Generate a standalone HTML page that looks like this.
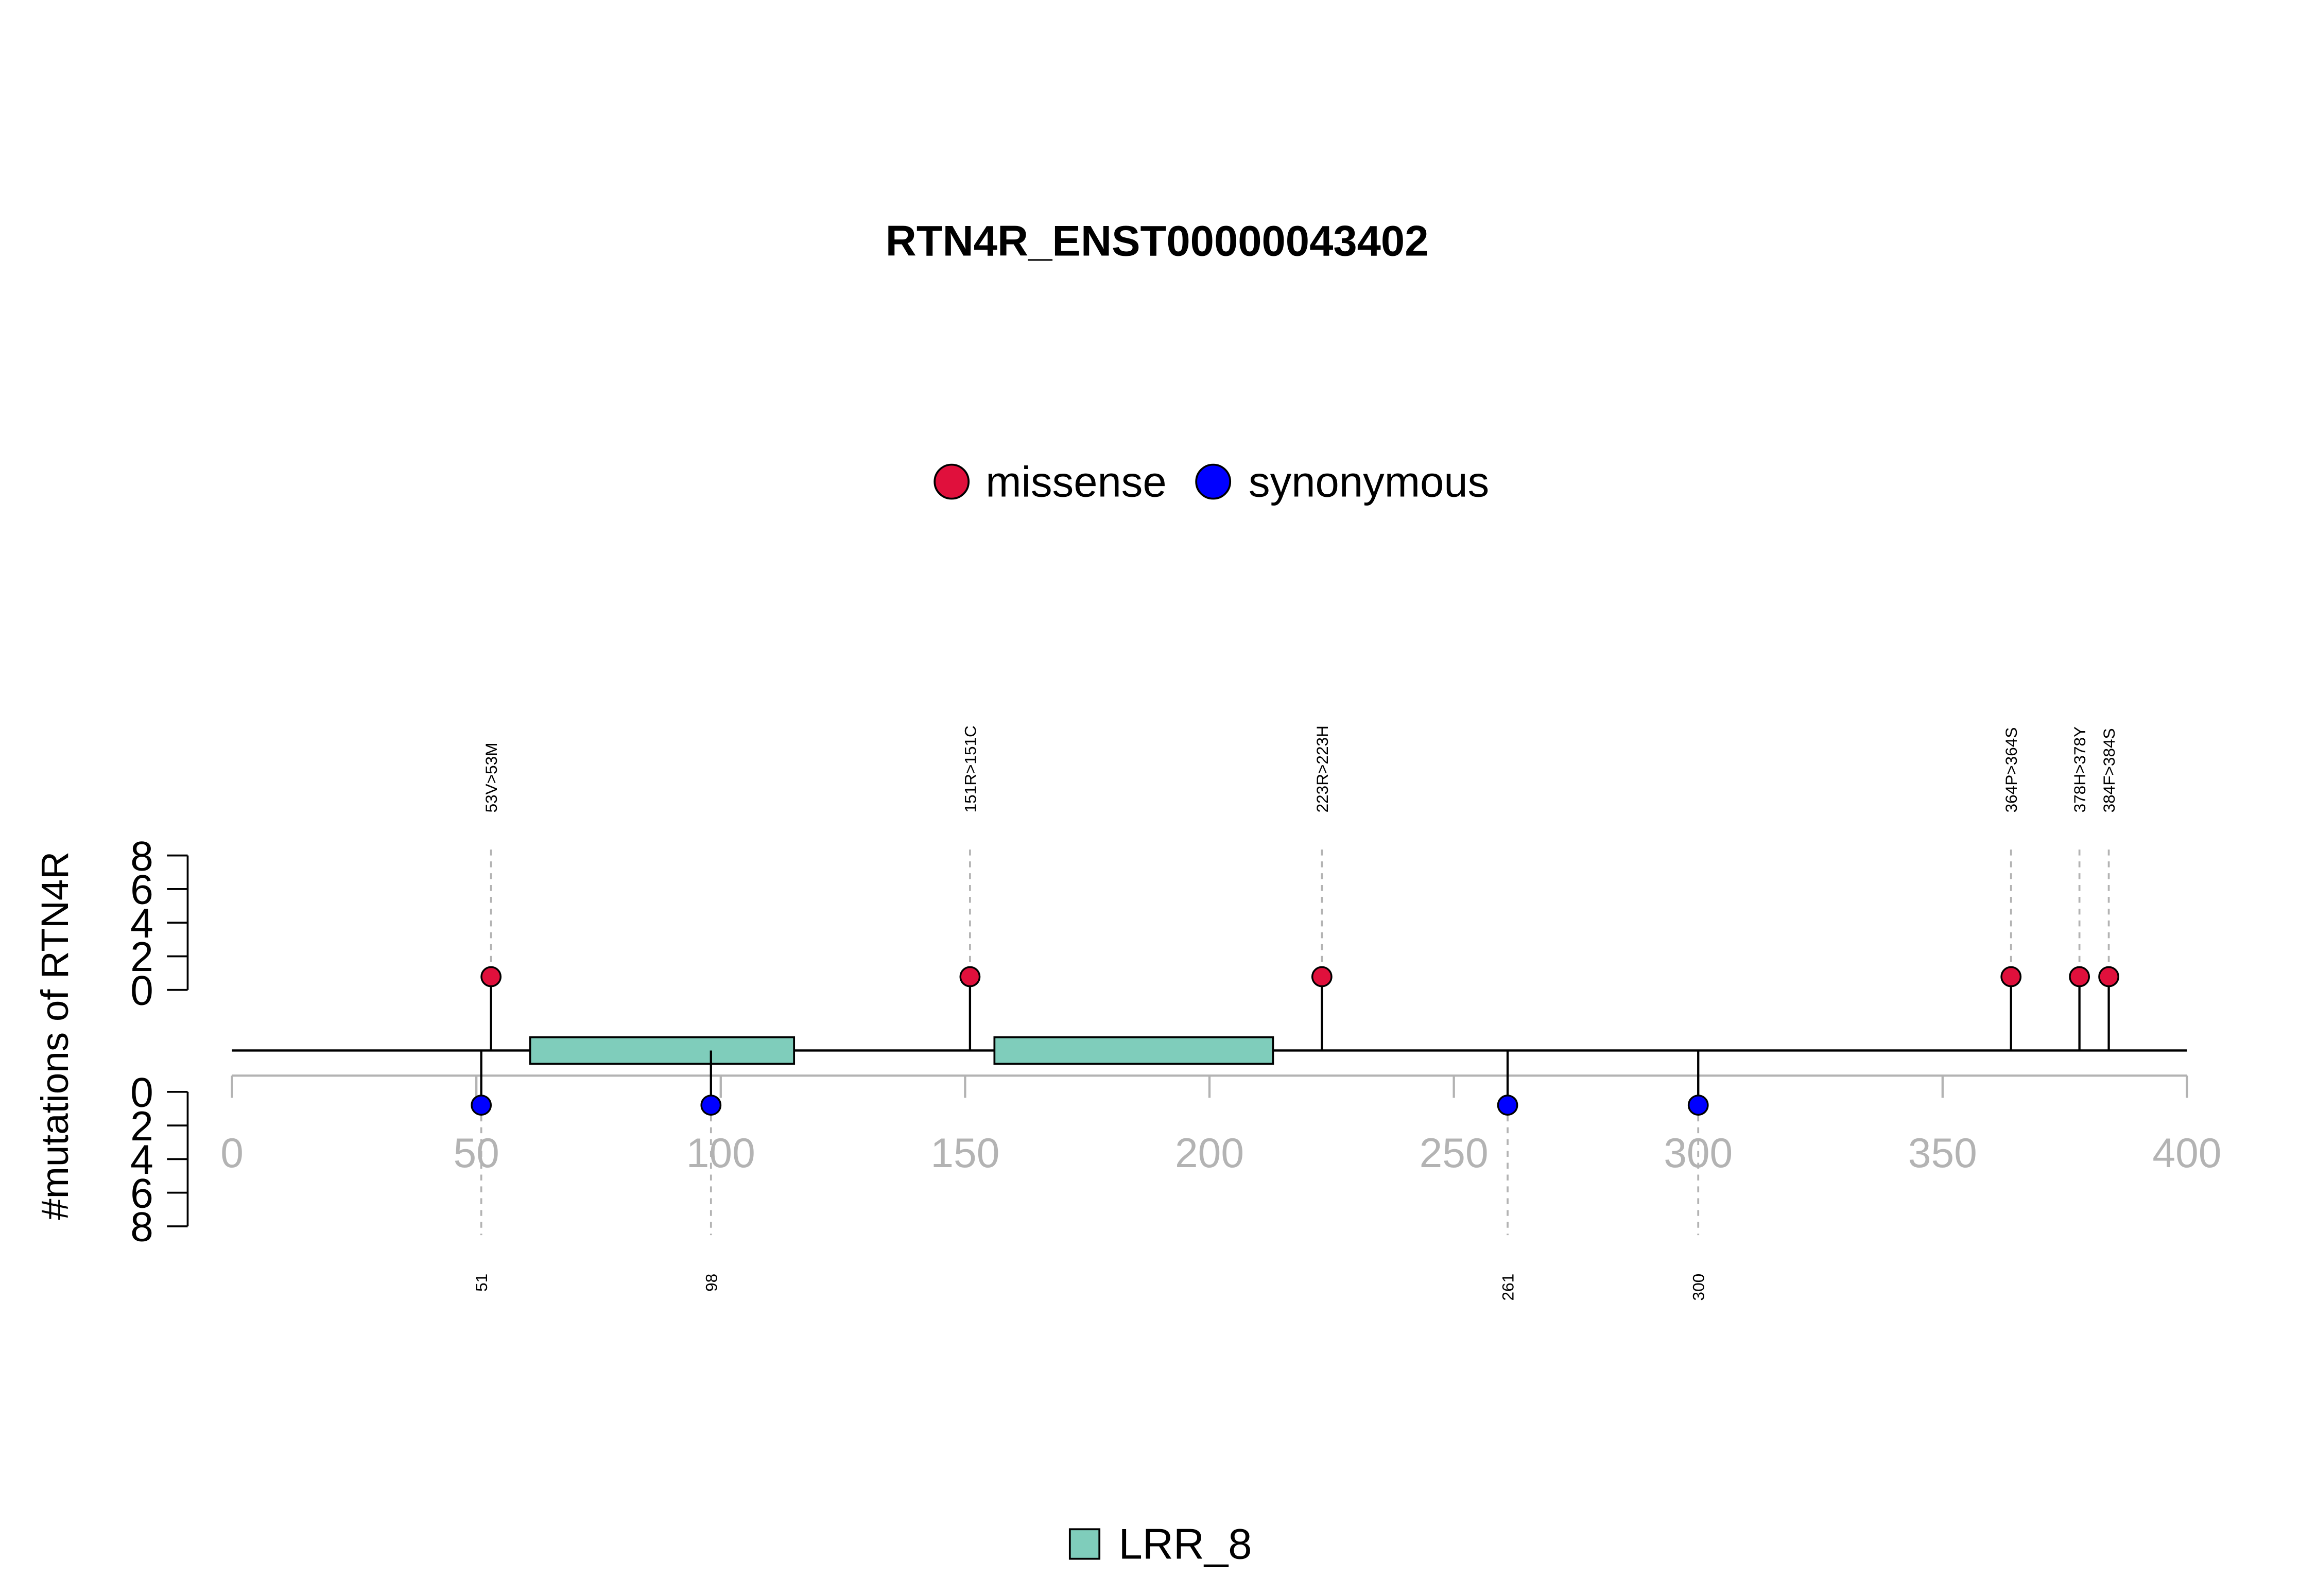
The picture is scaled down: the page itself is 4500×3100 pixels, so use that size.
<!DOCTYPE html>
<html><head><meta charset="utf-8"><style>
html,body{margin:0;padding:0;background:#fff;}
svg{display:block;font-family:"Liberation Sans",Arial,sans-serif;}
</style></head><body>
<svg id="chart" width="4500" height="3100" viewBox="0 0 1568 1080.2" preserveAspectRatio="none" xmlns="http://www.w3.org/2000/svg">
<text x="783" y="173" text-anchor="middle" font-size="29" font-weight="bold">RTN4R_ENST00000043402</text>
<g>
<circle cx="644" cy="326" r="11.5" fill="#E0103C" stroke="#000" stroke-width="1.3"/>
<text x="667" y="336" font-size="29">missense</text>
<circle cx="821" cy="326" r="11.5" fill="#0000FF" stroke="#000" stroke-width="1.3"/>
<text x="845" y="336" font-size="29">synonymous</text>
</g>
<text transform="translate(46,701) rotate(-90)" text-anchor="middle" font-size="26">#mutations of RTN4R</text>
<g id="axes"></g>
<g id="marks"></g>
<g>
<rect x="724" y="1035" width="20" height="20" fill="#7FCDBB" stroke="#000" stroke-width="1.3"/>
<text x="757" y="1055" font-size="29">LRR_8</text>
</g>
</svg>
<script>
const xTicks = [0, 50, 100, 150, 200, 250, 300, 350, 400];
const yTicks = [0, 2, 4, 6, 8];
const domainStarts = [61, 156];
const domainEnds = [115, 213];
const domainNames = ["LRR_8", "LRR_8"];
const missensePos = [53, 151, 223, 364, 378, 384];
const missenseLabels = ["53V>53M", "151R>151C", "223R>223H", "364P>364S", "378H>378Y", "384F>384S"];
const missenseCounts = [1, 1, 1, 1, 1, 1];
const synPos = [51, 98, 261, 300];
const synLabels = ["51", "98", "261", "300"];
const synCounts = [1, 1, 1, 1];

const NS = "http://www.w3.org/2000/svg";
const xs = v => 157 + v * (1480 - 157) / 400;
const yUp = v => 670 - v * (670 - 579) / 8;
const yDn = v => 739 + v * (830 - 739) / 8;
function mk(tag, attrs, parent, text) {
  const e = document.createElementNS(NS, tag);
  for (const k in attrs) e.setAttribute(k, attrs[k]);
  if (text !== undefined) e.textContent = text;
  parent.appendChild(e);
  return e;
}
const axes = document.getElementById("axes");
const marks = document.getElementById("marks");

let ax = mk("line", {x1: xs(0), x2: xs(400), y1: 728, y2: 728, stroke: "#b3b3b3", "stroke-width": 1.5}, axes);


xTicks.forEach(t => {
  const l = mk("line", {x1: xs(t), x2: xs(t), y1: 728, y2: 743, stroke: "#b3b3b3", "stroke-width": 1.5}, axes);
  
  
  const tx = mk("text", {x: xs(t), y: 790, "text-anchor": "middle", "font-size": 28, fill: "#b3b3b3"}, axes, String(t));
  
  
});
[[yUp, "upper"], [yDn, "lower"]].forEach(([f, nm]) => {
  const l = mk("line", {x1: 127, x2: 127, y1: f(0), y2: f(8), stroke: "#000", "stroke-width": 1.3}, axes);
  
  
  yTicks.forEach(t => {
    const tk = mk("line", {x1: 113, x2: 127, y1: f(t), y2: f(t), stroke: "#000", "stroke-width": 1.3}, axes);
    
    
    const tx = mk("text", {x: 96, y: f(t) + 10, "text-anchor": "middle", "font-size": 28}, axes, String(t));
    
    
  });
});
const bb = mk("line", {x1: xs(0), x2: xs(400), y1: 711, y2: 711, stroke: "#000", "stroke-width": 1.5}, marks);


domainStarts.forEach((s, i) => {
  const r = mk("rect", {x: xs(s), y: 702, width: xs(domainEnds[i]) - xs(s), height: 18, fill: "#7FCDBB", stroke: "#000", "stroke-width": 1.3}, marks);
  
  
});
missensePos.forEach((p, i) => {
  const x = xs(p), y = yUp(missenseCounts[i]) + 2.4;
  const d = mk("line", {x1: x, x2: x, y1: 575, y2: y - 7, stroke: "#b3b3b3", "stroke-width": 1.3, "stroke-dasharray": "4,4"}, marks);
  
  
  const s = mk("line", {x1: x, x2: x, y1: 711, y2: y, stroke: "#000", "stroke-width": 1.5}, marks);
  
  
  const c = mk("circle", {cx: x, cy: y, r: 6.5, fill: "#E0103C", stroke: "#000", "stroke-width": 1.2}, marks);
  
  
  const t = mk("text", {transform: `translate(${x + 4},550) rotate(-90)`, "font-size": 11}, marks, missenseLabels[i]);
  
  
});
synPos.forEach((p, i) => {
  const x = xs(p), y = yDn(synCounts[i]) - 2.4;
  const d = mk("line", {x1: x, x2: x, y1: y + 7, y2: 836, stroke: "#b3b3b3", "stroke-width": 1.3, "stroke-dasharray": "4,4"}, marks);
  
  
  const s = mk("line", {x1: x, x2: x, y1: 711, y2: y, stroke: "#000", "stroke-width": 1.5}, marks);
  
  
  const c = mk("circle", {cx: x, cy: y, r: 6.5, fill: "#0000FF", stroke: "#000", "stroke-width": 1.2}, marks);
  
  
  const t = mk("text", {transform: `translate(${x + 4},862) rotate(-90)`, "text-anchor": "end", "font-size": 11}, marks, synLabels[i]);
  
  
});
</script>
</body></html>
